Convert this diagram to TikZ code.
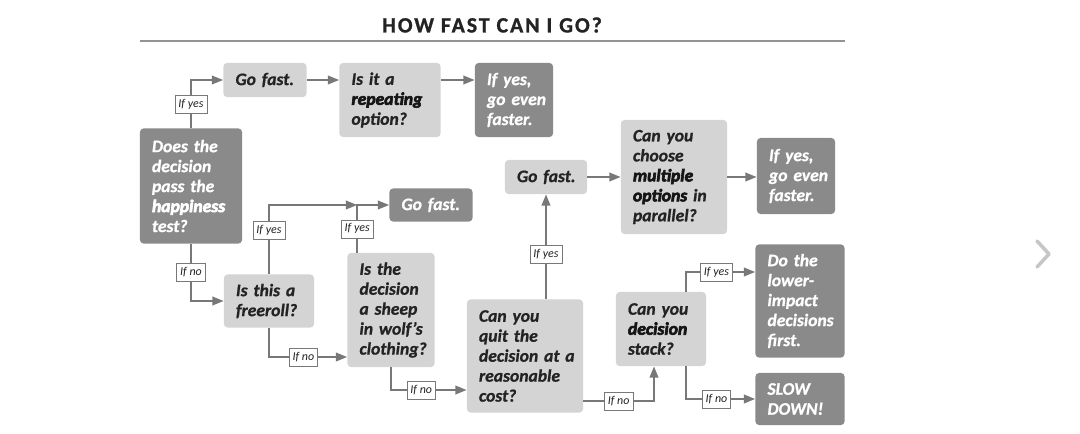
\documentclass[tikz,border=0pt]{standalone}
\usepackage{fontspec}
\setmainfont{Carlito}
\newfontfamily\boxfont{Carlito}[FakeBold=0.9]
\newfontfamily\heavy{Carlito}[FakeBold=3.5]
\newfontfamily\titlefont{Carlito}[LetterSpace=9, FakeBold=1]
\usetikzlibrary{arrows.meta}
\definecolor{boxlight}{RGB}{212,212,212}
\definecolor{boxdark}{RGB}{138,138,138}
\definecolor{linegray}{RGB}{120,120,120}
\definecolor{inkdark}{RGB}{35,35,35}
\tikzset{
box/.style={rounded corners=2.5pt, inner xsep=0.3cm, inner ysep=0pt, align=left, font=\boxfont\fontsize{12.5}{14.2}\selectfont\bfseries\itshape},
light/.style={box, fill=boxlight, text=inkdark},
dark/.style={box, fill=boxdark, text=white},
conn/.style={draw=linegray, line width=1.5pt, -{Triangle[length=8pt,width=6pt]}},
lbl/.style={draw=linegray, line width=0.5pt, fill=white, text=inkdark, font=\fontsize{8.5}{9}\selectfont\itshape, inner xsep=2.5pt, inner ysep=1pt, minimum height=0.45cm},
}
\newcommand{\hv}[1]{{\heavy\color{.!60!black}#1}}
\begin{document}
\begin{tikzpicture}[x=0.025cm, y=-0.025cm]
\useasboundingbox (0,0) rectangle (1080,434);
\node[font=\titlefont\bfseries\fontsize{15.5}{18}\selectfont, text=inkdark] (title) at (492,25) {HOW FAST CAN I GO?};
\draw[linegray!80, line width=1pt] (140,41) -- (845,41);

\node[dark, text width=1.95cm, minimum height=2.875cm] (happy) at (191,186) {Does~the\\decision\\pass~the\\{\heavy happiness}\\test?};
\node[light, text width=1.475cm, minimum height=0.85cm] (go1) at (265,80) {Go~fast.};
\node[light, text width=1.925cm, minimum height=1.85cm] (rep) at (390,100) {Is~it~a\\\hv{repeating}\\option?};
\node[dark, text width=1.35cm, minimum height=1.85cm] (fast1) at (514,100) {If~yes,\\go~even\\faster.};
\node[light, text width=1.65cm, minimum height=1.325cm] (free) at (269,301) {Is~this~a\\freeroll?};
\node[dark, text width=1.475cm, minimum height=0.825cm] (go2) at (431,205) {Go~fast.};
\node[light, text width=1.575cm, minimum height=2.85cm] (sheep) at (391,310) {Is~the\\decision\\a~sheep\\in~wolf’s\\clothing?};
\node[light, text width=2.3cm, minimum height=2.825cm] (quit) at (525,356) {Can~you\\quit~the\\decision~at~a\\reasonable\\cost?};
\node[light, text width=1.45cm, minimum height=0.85cm] (go3) at (546,177) {Go~fast.};
\node[light, text width=2.05cm, minimum height=2.85cm] (multi) at (674,177) {Can~you\\choose\\\hv{multiple}\\\hv{options}~in\\parallel?};
\node[dark, text width=1.35cm, minimum height=1.9cm] (fast2) at (796,176) {If~yes,\\go~even\\faster.};
\node[light, text width=1.65cm, minimum height=1.85cm] (stack) at (661,329) {Can~you\\\hv{decision}\\stack?};
\node[dark, text width=1.625cm, minimum height=2.825cm] (lower) at (800,301) {Do~the\\lower-\\impact\\decisions\\first.};
\node[dark, text width=1.625cm, minimum height=1.3cm] (slow) at (800,399) {SLOW\\DOWN!};

\coordinate (s1) at ([xshift=0.25cm]sheep.north west);
\coordinate (j1) at (s1 |- go2.west);
\coordinate (f1) at ([yshift=-1.175cm]sheep.west);
\coordinate (q1) at ([yshift=-1.125cm]quit.east);
\coordinate (q2) at ([yshift=-0.85cm]quit.west);
\coordinate (s2) at ([xshift=-0.175cm]stack.south);
\coordinate (s3) at ([xshift=0.625cm]stack.north);
\coordinate (s4) at ([xshift=0.625cm]stack.south);
\coordinate (l1) at ([yshift=0.725cm]lower.west);

\draw[conn] (happy.north) |- node[lbl, pos=0.25] {If yes} (go1.west);
\draw[conn] (go1.east) -- (go1.east -| rep.west);
\draw[conn] (rep.east |- go1.east) -- (fast1.west |- go1.east);
\draw[conn] (happy.south) |- node[lbl, pos=0.25] {If no} (free.west);
\draw[conn] (free.north) |- node[lbl, pos=0.32] {If yes} (j1);
\draw[conn] (s1) -- node[lbl] {If yes} (j1) -- (go2.west);
\draw[conn] (free.south) |- node[lbl, pos=0.72] {If no} (f1);
\draw[conn] (sheep.south) |- node[lbl, pos=0.7] {If no} (q2);
\draw[conn] (go3.south |- quit.north) -- node[lbl, pos=0.43] {If yes} (go3.south);
\draw[conn] (go3.east) -- (go3.east -| multi.west);
\draw[conn] (multi.east) -- (multi.east -| fast2.west);
\draw[conn] (q1) -| node[lbl, pos=0.25] {If no} (s2);
\draw[conn] (s3) |- node[lbl, pos=0.72] {If yes} (l1);
\draw[conn] (s4) |- node[lbl, pos=0.72] {If no} (slow.west);

\draw[gray!45, line width=2.5pt, line cap=round, line join=round] (1037,241) -- (1049,254) -- (1037,267);
\end{tikzpicture}
\end{document}
